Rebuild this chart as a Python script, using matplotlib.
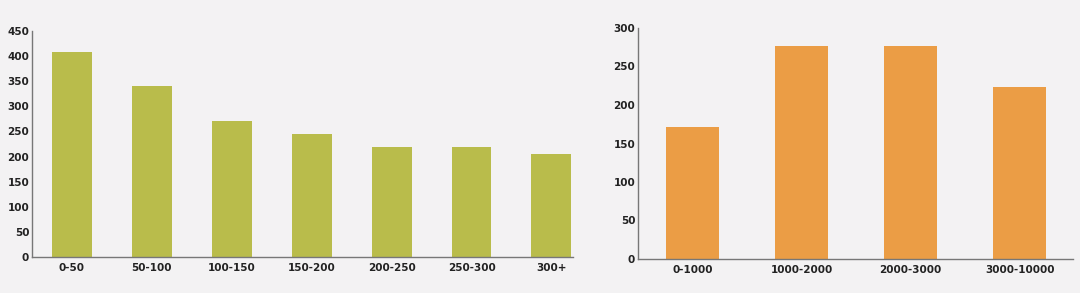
import matplotlib
matplotlib.use('Agg')
import matplotlib.pyplot as plt

## data
dist_cats = ["0-50", "50-100", "100-150", "150-200", "200-250", "250-300", "300+"]
dist_vals = [408, 341, 271, 245, 219, 219, 205]

price_cats = ["0-1000", "1000-2000", "2000-3000", "3000-10000"]
price_vals = [171, 277, 277, 223]

bg = '#f3f2f3'
green = '#b9bc4b'
orange = '#eb9d45'

plt.rcParams['font.family'] = ['DejaVu Sans']

fig = plt.figure(figsize=(10.8, 2.93), dpi=100, facecolor=bg)
W, H = 1080, 293
ax1 = fig.add_axes([32 / W, 1 - 257 / H, (573 - 32) / W, (257 - 31) / H])
ax2 = fig.add_axes([638 / W, 1 - 259 / H, (1073 - 638) / W, (259 - 28) / H])


def style(ax, cats, vals, color, ymax, step, xmax, width):
    ax.set_facecolor(bg)
    x = list(range(len(cats)))
    ax.bar(x, vals, width=width, color=color, zorder=2)
    ax.set_xlim(-0.5, xmax)
    ax.set_ylim(0, ymax)
    ax.set_yticks(range(0, ymax + 1, step))
    ax.set_xticks(x)
    ax.set_xticklabels(cats)
    for s in ['top', 'right']:
        ax.spines[s].set_visible(False)
    for s in ['left', 'bottom']:
        ax.spines[s].set_color('#777777')
        ax.spines[s].set_linewidth(1.0)
    ax.tick_params(length=0, labelsize=7.5, colors='#222222')
    ax.tick_params(axis='x', pad=4)
    ax.tick_params(axis='y', pad=2)
    for lab in ax.get_xticklabels() + ax.get_yticklabels():
        lab.set_fontweight('bold')


style(ax1, dist_cats, dist_vals, green, 450, 50, 6.27, 0.5)
style(ax2, price_cats, price_vals, orange, 300, 50, 3.49, 0.49)

fig.savefig('out.png', dpi=100, facecolor=bg)
